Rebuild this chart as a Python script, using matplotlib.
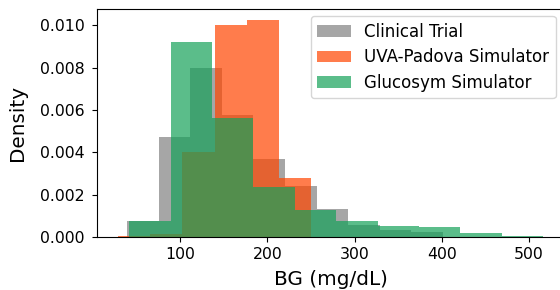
import numpy as np
import matplotlib
matplotlib.use("Agg")
import matplotlib.pyplot as plt

# Histogram bin ranges (BG mg/dL) and density heights, 10 bins each
labels = ["Clinical Trial", "UVA-Padova Simulator", "Glucosym Simulator"]
colors = ["gray", "orangered", "#15a159"]

clinical_range = (39.2, 401.4)
clinical_density = [0.00078, 0.00472, 0.00797, 0.00576, 0.00369,
                    0.00242, 0.00133, 0.00058, 0.00034, 0.00026]

uva_range = (29.2, 397.2)
uva_density = [0.00005, 0.00016, 0.00403, 0.01000, 0.01024,
               0.00279, 0.00002, 0.00003, 0.00000, 0.00003]

glucosym_range = (41.8, 516.3)
glucosym_density = [0.00078, 0.00919, 0.00563, 0.00238, 0.00128,
                    0.00077, 0.00053, 0.00048, 0.00020, 0.00008]

series = [(clinical_range, clinical_density),
          (uva_range, uva_density),
          (glucosym_range, glucosym_density)]

fig = plt.figure(figsize=(5.6, 2.9), dpi=100)
ax = fig.add_axes([97.0 / 560, (290 - 237.3) / 290,
                   (564.5 - 97.0) / 560, (237.3 - 9.3) / 290])

for (rng, dens), lab, col in zip(series, labels, colors):
    edges = np.linspace(rng[0], rng[1], len(dens) + 1)
    ax.hist(edges[:-1], bins=edges, weights=dens, color=col,
            alpha=0.7, label=lab)

ax.set_xlabel("BG (mg/dL)", fontsize=14.4, labelpad=6)
ax.set_ylabel("Density", fontsize=14.4, labelpad=9)
ax.tick_params(labelsize=11.3)
ax.tick_params(axis="y", pad=5.5)
ax.set_xticks([100, 200, 300, 400, 500])
ax.set_yticks([0, 0.002, 0.004, 0.006, 0.008, 0.010])
ax.set_yticklabels(["0.000", "0.002", "0.004", "0.006", "0.008", "0.010"])
ax.legend(loc="upper right", fontsize=12, bbox_to_anchor=(0.992, 0.992),
          handlelength=2.0, borderaxespad=0.3, labelspacing=0.45)

fig.savefig("out.png", dpi=100)
